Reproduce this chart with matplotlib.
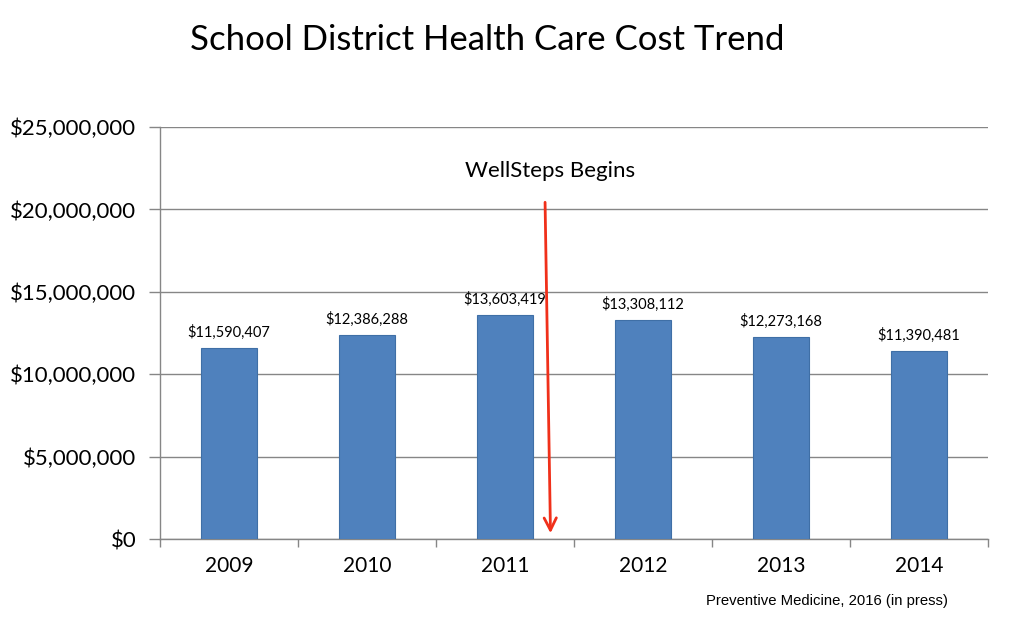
import matplotlib
matplotlib.use("Agg")
import matplotlib.pyplot as plt
from matplotlib.ticker import FuncFormatter, MultipleLocator, FixedLocator

years = ["2009", "2010", "2011", "2012", "2013", "2014"]
costs = [11590407, 12386288, 13603419, 13308112, 12273168, 11390481]
title = "School District Health Care Cost Trend"
note = "WellSteps Begins"
source = "Preventive Medicine, 2016 (in press)"

plt.rcParams['font.family'] = ['Lato', 'DejaVu Sans']

fig = plt.figure(figsize=(10.24, 6.26), dpi=100)
ax = fig.add_axes([160/1024, 1-539/626, (988-160)/1024, (539-127)/626])

x = list(range(len(years)))
ax.bar(x, costs, width=0.4, color="#4F81BD", edgecolor="#3F6FA6", linewidth=0.8, zorder=3)
for xi, v in zip(x, costs):
    ax.text(xi, v + 500000, f"${v:,.0f}", ha="center", va="bottom", fontsize=10.5, color="black", zorder=4)

ax.set_xlim(-0.5, len(years) - 0.5)
ax.set_ylim(0, 25000000)
ax.yaxis.set_major_locator(MultipleLocator(5000000))
ax.yaxis.set_major_formatter(FuncFormatter(lambda v, p: f"${v:,.0f}"))
ax.set_xticks(x)
ax.set_xticklabels(years)
ax.xaxis.set_minor_locator(FixedLocator([i + 0.5 for i in range(-1, len(years))]))
ax.tick_params(axis="x", which="major", length=0, labelsize=15, pad=12)
ax.tick_params(axis="x", which="minor", length=6, color="#868686", width=1)
ax.tick_params(axis="y", length=8, color="#868686", width=1, labelsize=16, pad=9)
ax.grid(axis="y", color="#868686", linewidth=1, zorder=0)
for s in ["top", "right"]:
    ax.spines[s].set_visible(False)
for s in ["left", "bottom"]:
    ax.spines[s].set_color("#868686")
    ax.spines[s].set_linewidth(1)

ax.annotate("", xy=(2.33, 180000), xytext=(2.29, 20600000),
            arrowprops=dict(arrowstyle="->", color="#F0301A", lw=2, mutation_scale=22), zorder=5)
ax.text(2.33, 22330000, note, ha="center", va="center", fontsize=16, color="black")

fig.text(487/1024, 1-40/626, title, ha="center", va="center", fontsize=25, color="black")
fig.text(948/1024, 1-601/626, source, ha="right", va="center", fontsize=10.7,
         family=["Liberation Sans", "DejaVu Sans"], color="black")

fig.savefig("out.png", dpi=100, facecolor="white")
